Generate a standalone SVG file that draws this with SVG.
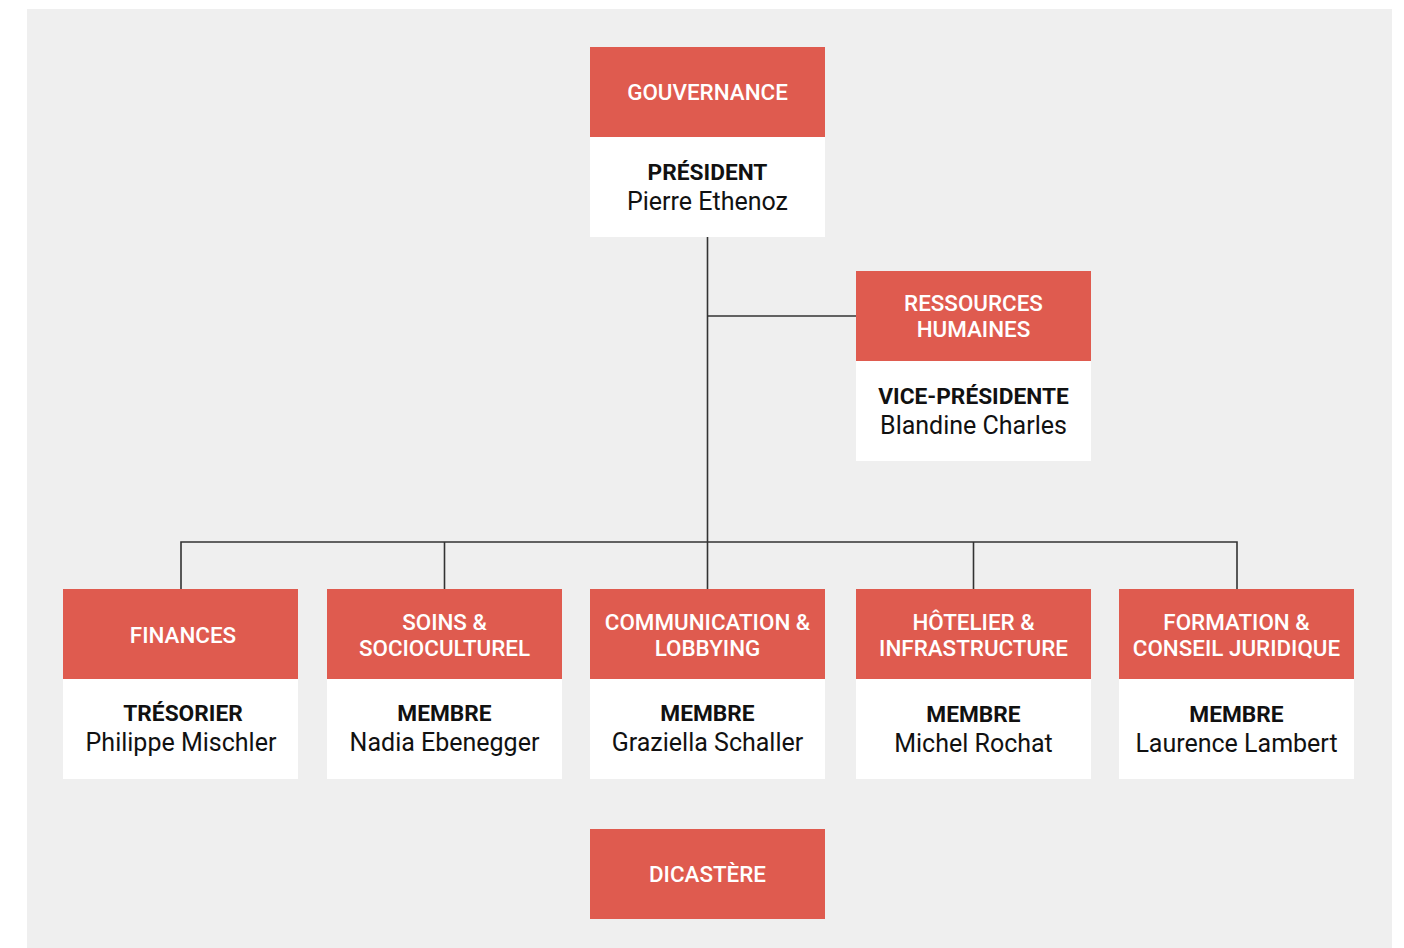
<svg xmlns="http://www.w3.org/2000/svg" width="1404" height="948" viewBox="0 0 1404 948">
<style>
.hd{fill:#df5b4f}
.bd{fill:#ffffff}
.ht{font-family:Roboto,"Liberation Sans",sans-serif;font-size:22.4px;font-weight:500;fill:#ffffff;text-anchor:middle}
.tt{font-family:Roboto,"Liberation Sans",sans-serif;font-size:22.7px;font-weight:bold;fill:#111111;text-anchor:middle}
.nm{font-family:Roboto,"Liberation Sans",sans-serif;font-size:25px;fill:#111111;text-anchor:middle}
.cn{fill:none;stroke:#333333;stroke-width:1.6}
</style>
<rect x="0" y="0" width="1404" height="948" fill="#ffffff"/>
<rect x="27" y="9" width="1365" height="939" fill="#efefef"/>
<g id="connectors">
<path class="cn" d="M707.5 237V589"/>
<path class="cn" d="M707.5 316H856"/>
<path class="cn" d="M181 589V542H1237V589"/>
<path class="cn" d="M444.5 542V589"/>
<path class="cn" d="M973.5 542V589"/>
</g>
<g id="gouvernance">
<rect class="hd" x="590" y="47" width="235" height="90"/>
<rect class="bd" x="590" y="137" width="235" height="100"/>
<text class="ht" x="707.5" y="100">GOUVERNANCE</text>
<text class="tt" x="707.5" y="180">PRÉSIDENT</text>
<text class="nm" x="707.5" y="210">Pierre Ethenoz</text>
</g>
<g id="rh">
<rect class="hd" x="856" y="271" width="235" height="90"/>
<rect class="bd" x="856" y="361" width="235" height="100"/>
<text class="ht" x="973.5" y="311">RESSOURCES</text>
<text class="ht" x="973.5" y="337">HUMAINES</text>
<text class="tt" x="973.5" y="404">VICE-PRÉSIDENTE</text>
<text class="nm" x="973.5" y="434">Blandine Charles</text>
</g>
<g id="finances">
<rect class="hd" x="63" y="589" width="235" height="90"/>
<rect class="bd" x="63" y="679" width="235" height="100"/>
<text class="ht" x="183" y="643">FINANCES</text>
<text class="tt" x="183" y="721">TRÉSORIER</text>
<text class="nm" x="181" y="751">Philippe Mischler</text>
</g>
<g id="soins">
<rect class="hd" x="327" y="589" width="235" height="90"/>
<rect class="bd" x="327" y="679" width="235" height="100"/>
<text class="ht" x="444.5" y="630">SOINS &amp;</text>
<text class="ht" x="444.5" y="656">SOCIOCULTUREL</text>
<text class="tt" x="444.5" y="721">MEMBRE</text>
<text class="nm" x="444.5" y="751">Nadia Ebenegger</text>
</g>
<g id="communication">
<rect class="hd" x="590" y="589" width="235" height="90"/>
<rect class="bd" x="590" y="679" width="235" height="100"/>
<text class="ht" x="707.5" y="630">COMMUNICATION &amp;</text>
<text class="ht" x="707.5" y="656">LOBBYING</text>
<text class="tt" x="707.5" y="721">MEMBRE</text>
<text class="nm" x="707.5" y="751">Graziella Schaller</text>
</g>
<g id="hotelier">
<rect class="hd" x="856" y="589" width="235" height="90"/>
<rect class="bd" x="856" y="679" width="235" height="100"/>
<text class="ht" x="973.5" y="630">HÔTELIER &amp;</text>
<text class="ht" x="973.5" y="656">INFRASTRUCTURE</text>
<text class="tt" x="973.5" y="722">MEMBRE</text>
<text class="nm" x="973.5" y="752">Michel Rochat</text>
</g>
<g id="formation">
<rect class="hd" x="1119" y="589" width="235" height="90"/>
<rect class="bd" x="1119" y="679" width="235" height="100"/>
<text class="ht" x="1236.5" y="630">FORMATION &amp;</text>
<text class="ht" x="1236.5" y="656">CONSEIL JURIDIQUE</text>
<text class="tt" x="1236.5" y="722">MEMBRE</text>
<text class="nm" x="1236.5" y="752">Laurence Lambert</text>
</g>
<g id="dicastere">
<rect class="hd" x="590" y="829" width="235" height="90"/>
<text class="ht" x="707.5" y="882">DICASTÈRE</text>
</g>
</svg>
